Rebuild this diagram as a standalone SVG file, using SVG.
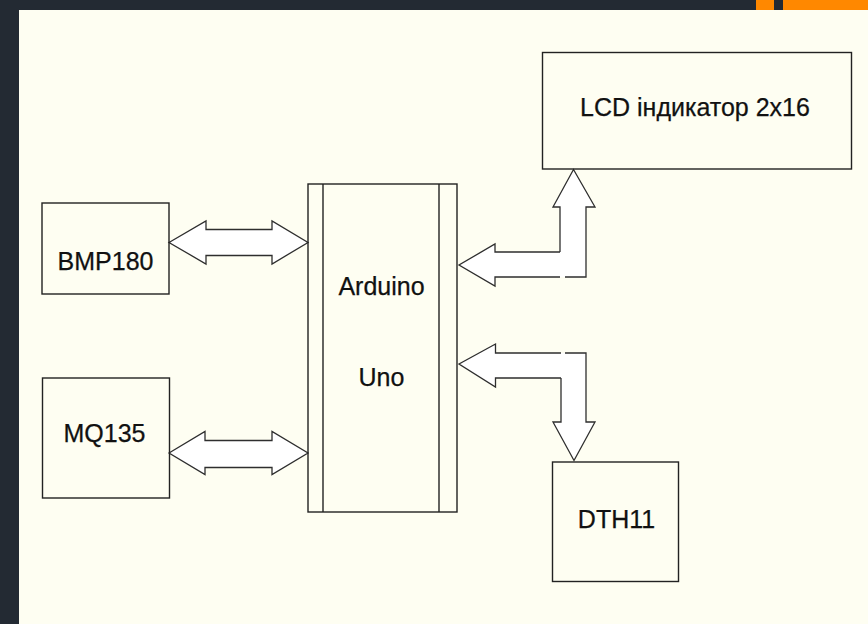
<svg xmlns="http://www.w3.org/2000/svg" width="868" height="624" viewBox="0 0 868 624">
<style>
.box{fill:none;stroke:#222222;stroke-width:1.4}
.lbl{font-family:"Liberation Sans",Arial,sans-serif;font-size:25px;fill:#111111;stroke:#111111;stroke-width:0.25;text-anchor:middle}
.afill{fill:#ffffff;stroke:none}
.aline{fill:none;stroke:#2e2e2e;stroke-width:1.3;stroke-linejoin:miter}
</style>
<rect x="0" y="0" width="868" height="624" fill="#FEFEF2"/>
<rect x="0" y="0" width="19" height="624" fill="#232A33"/>
<rect x="0" y="0" width="868" height="10" fill="#232A33"/>
<rect x="756" y="0" width="18" height="10" fill="#FF8800"/>
<rect x="783" y="0" width="85" height="10" fill="#FF8800"/>

<g id="connectors">
  <polygon class="afill" points="169,242.5 206,221 206,229.5 272,229.5 272,221 308,242.5 272,264 272,255.5 206,255.5 206,264"/>
  <polygon class="aline" points="169,242.5 206,221 206,229.5 272,229.5 272,221 308,242.5 272,264 272,255.5 206,255.5 206,264"/>
  <polygon class="afill" points="169,453 205,431.5 205,440.5 272,440.5 272,431.5 308,453 272,474.5 272,467.5 205,467.5 205,474.5"/>
  <polygon class="aline" points="169,453 205,431.5 205,440.5 272,440.5 272,431.5 308,453 272,474.5 272,467.5 205,467.5 205,474.5"/>
  <polygon class="afill" points="459,265 495,244 495,252 560,252 560,207 553,207 573.5,169.5 595,207 586,207 586,277 495,277 495,286"/>
  <path class="aline" d="M560,252 L495,252 L495,244 L459,265 L495,286 L495,277 L560,277 M565,277 L586,277 L586,207 L595,207 L573.5,169.5 L553,207 L560,207 L560,252"/>
  <polygon class="afill" points="459,364 495.5,344 495.5,353 586,353 586,422 595,422 574,460.5 553,422 561,422 561,378 495.5,378 495.5,387"/>
  <path class="aline" d="M561,378 L495.5,378 L495.5,387 L459,364 L495.5,344 L495.5,353 L561,353 M565,353 L586,353 L586,422 L595,422 L574,460.5 L553,422 L561,422 L561,378"/>
</g>

<g id="lcd">
  <rect class="box" x="542.5" y="52.5" width="309" height="116.5"/>
  <text class="lbl" x="695" y="116">LCD індикатор 2x16</text>
</g>
<g id="bmp180">
  <rect class="box" x="42" y="203" width="127" height="91"/>
  <text class="lbl" x="105.5" y="270">BMP180</text>
</g>
<g id="mq135">
  <rect class="box" x="42.5" y="378" width="127" height="120"/>
  <text class="lbl" x="104.5" y="442">MQ135</text>
</g>
<g id="arduino">
  <rect class="box" x="308" y="184" width="149" height="328"/>
  <line class="box" x1="323" y1="184" x2="323" y2="512"/>
  <line class="box" x1="439" y1="184" x2="439" y2="512"/>
  <text class="lbl" x="381.5" y="295">Arduino</text>
  <text class="lbl" x="381.5" y="386">Uno</text>
</g>
<g id="dth11">
  <rect class="box" x="552.5" y="462" width="126" height="119.5"/>
  <text class="lbl" x="616.5" y="528">DTH11</text>
</g>
</svg>
